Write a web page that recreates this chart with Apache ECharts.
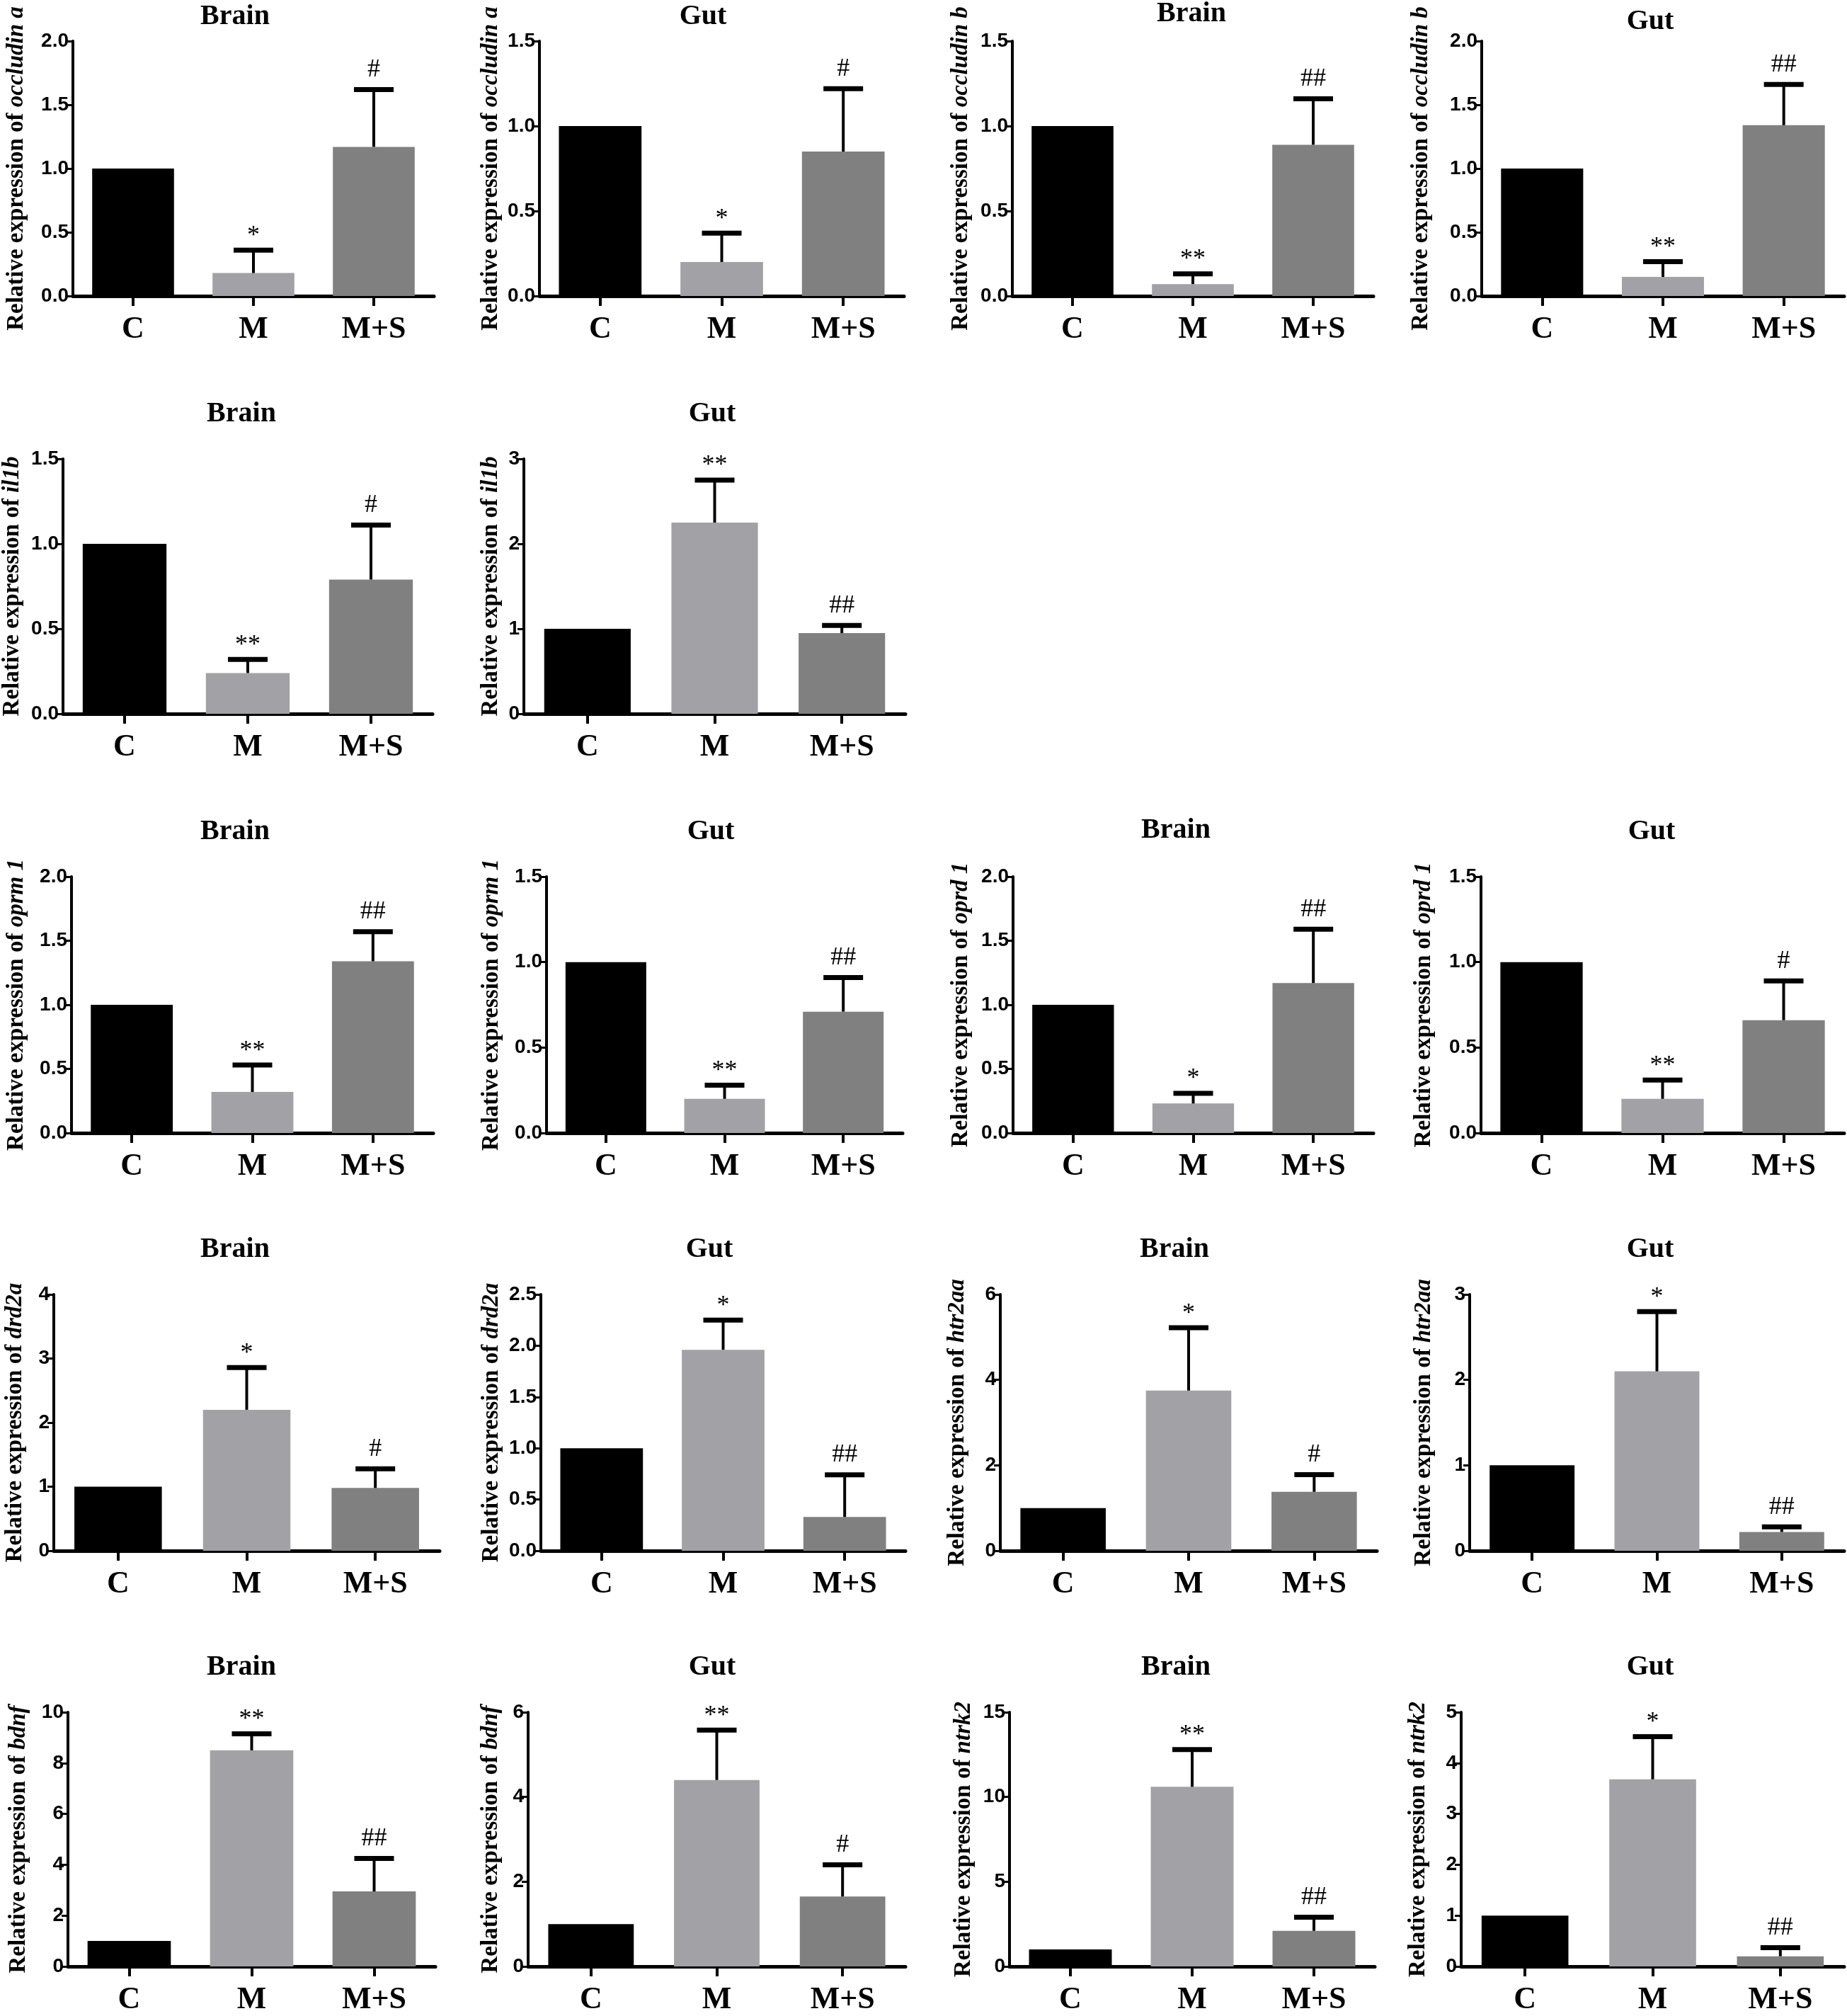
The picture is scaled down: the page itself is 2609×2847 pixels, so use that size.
<!DOCTYPE html>
<html>
<head>
    <meta charset="utf-8">
    <title>Relative expression</title>
    <script src="https://cdn.jsdelivr.net/npm/echarts@6/dist/echarts.min.js"></script>
    <style>
        html, body { margin: 0; padding: 0; background: #fff; }
        #chart { width: 2609px; height: 2847px; }
    </style>
</head>
<body>
<div id="chart"></div>
<script>
    // ---- data ----
    var groups = ['C', 'M', 'M+S'];
    var tissues = ['Brain', 'Gut', 'Brain', 'Gut', 'Brain', 'Gut', 'Brain', 'Gut', 'Brain',
        'Gut', 'Brain', 'Gut', 'Brain', 'Gut', 'Brain', 'Gut', 'Brain', 'Gut'];
    var genes = ['occludin a', 'occludin a', 'occludin b', 'occludin b', 'il1b', 'il1b',
        'oprm 1', 'oprm 1', 'oprd 1', 'oprd 1', 'drd2a', 'drd2a', 'htr2aa', 'htr2aa',
        'bdnf', 'bdnf', 'ntrk2', 'ntrk2'];
    var meanC  = [1, 1, 1, 1, 1, 1, 1, 1, 1, 1, 1, 1, 1, 1, 1, 1, 1, 1];
    var meanM  = [0.18, 0.20, 0.07, 0.15, 0.24, 2.25, 0.32, 0.20, 0.23, 0.20, 2.20, 1.96, 3.75, 2.10, 8.50, 4.40, 10.6, 3.68];
    var meanMS = [1.17, 0.85, 0.89, 1.34, 0.79, 0.95, 1.34, 0.71, 1.17, 0.66, 0.98, 0.33, 1.38, 0.22, 2.95, 1.65, 2.10, 0.20];
    // top of the error bar (mean + SD)
    var topM   = [0.36, 0.37, 0.13, 0.27, 0.32, 2.75, 0.53, 0.28, 0.31, 0.31, 2.86, 2.25, 5.22, 2.80, 9.15, 5.58, 12.8, 4.52];
    var topMS  = [1.62, 1.22, 1.16, 1.66, 1.11, 1.04, 1.57, 0.91, 1.59, 0.89, 1.28, 0.74, 1.78, 0.28, 4.25, 2.40, 2.90, 0.37];
    var sigM   = ['*', '*', '**', '**', '**', '**', '**', '**', '*', '**', '*', '*', '*', '*', '**', '**', '**', '*'];
    var sigMS  = ['#', '#', '##', '##', '#', '##', '##', '##', '##', '#', '#', '##', '#', '##', '##', '#', '##', '##'];
    var yMax   = [2, 1.5, 1.5, 2, 1.5, 3, 2, 1.5, 2, 1.5, 4, 2.5, 6, 3, 10, 6, 15, 5];
    var yStep  = [0.5, 0.5, 0.5, 0.5, 0.5, 1, 0.5, 0.5, 0.5, 0.5, 1, 0.5, 2, 1, 2, 2, 5, 1];

    // ---- layout (pixels) ----
    var gridL  = [103, 762, 1430, 2093, 89, 740, 101, 772, 1431, 2092, 76, 764, 1413, 2076, 96, 746, 1426, 2064];
    var gridR  = [613, 1277, 1940, 2605, 611, 1279, 612, 1275, 1940, 2605, 621, 1279, 1945, 2605, 615, 1279, 1942, 2605];
    var rowTop = [58, 648, 1238, 1828, 2418];
    var rowBot = [418, 1008, 1600, 2190, 2780];
    var panelRow = [0, 0, 0, 0, 1, 1, 2, 2, 2, 2, 3, 3, 3, 3, 4, 4, 4, 4];
    var titleX = [332, 993, 1683, 2331, 341, 1006, 332, 1004, 1661, 2333, 332, 1002, 1659, 2331, 341, 1006, 1661, 2331];
    var titleY = [24, 24, 20, 31, 585, 585, 1175, 1175, 1173, 1175, 1765, 1765, 1765, 1765, 2355, 2355, 2355, 2355];
    var nameX  = [24, 694, 1358, 2008, 18, 694, 24, 695, 1358, 2012, 22, 695, 1353, 2012, 27, 694, 1362, 2004];

    var colors = ['#000000', '#a2a2a6', '#808080'];
    var serif = '"Liberation Serif", "Times New Roman", serif';
    var sans = '"Liberation Sans", Arial, sans-serif';

    var grids = [], xAxes = [], yAxes = [], series = [], texts = [];

    function makeErr(k) {
        var sigs = [sigM[k], sigMS[k]];
        return function (params, api) {
            var x = api.value(0);
            var p0 = api.coord([x, api.value(1)]);
            var p1 = api.coord([x, api.value(2)]);
            var sig = sigs[params.dataIndex];
            var off = sig.indexOf('*') >= 0 ? 20 : 28;
            return {
                type: 'group',
                children: [
                    {type: 'line', shape: {x1: p0[0], y1: p0[1], x2: p1[0], y2: p1[1]},
                        style: {stroke: '#000', lineWidth: 4}},
                    {type: 'line', shape: {x1: p1[0] - 28, y1: p1[1], x2: p1[0] + 28, y2: p1[1]},
                        style: {stroke: '#000', lineWidth: 7}},
                    {type: 'text', x: p1[0], y: p1[1] - off,
                        style: {text: sig, fontFamily: serif, fontSize: 36, fill: '#000',
                            align: 'center', verticalAlign: 'middle'}}
                ]
            };
        };
    }

    for (var k = 0; k < genes.length; k++) {
        var r = panelRow[k];
        var dec = yStep[k] < 1 ? 1 : 0;
        grids.push({
            left: gridL[k], top: rowTop[r],
            width: gridR[k] - gridL[k], height: rowBot[r] - rowTop[r]
        });
        xAxes.push({
            type: 'category', gridIndex: k, data: groups,
            axisLine: {show: true, lineStyle: {color: '#000', width: 5}},
            axisTick: {show: true, alignWithLabel: true, length: 14, lineStyle: {color: '#000', width: 4}},
            axisLabel: {color: '#000', fontFamily: serif, fontWeight: 'bold', fontSize: 44, margin: 26}
        });
        yAxes.push({
            type: 'value', gridIndex: k, min: 0, max: yMax[k], interval: yStep[k],
            splitLine: {show: false},
            axisLine: {show: true, lineStyle: {color: '#000', width: 4}},
            axisTick: {show: true, length: 9, lineStyle: {color: '#000', width: 3}},
            axisLabel: {
                color: '#000', fontFamily: sans, fontWeight: 'bold', fontSize: 28, margin: 6,
                formatter: (function (d) { return function (v) { return v.toFixed(d); }; })(dec)
            },
            name: '{a|Relative expression of }{b|' + genes[k] + '}',
            nameLocation: 'middle', nameRotate: 90,
            nameGap: gridL[k] - nameX[k] - 16,
            nameTextStyle: {
                fontSize: 33,
                rich: {
                    a: {fontFamily: serif, fontWeight: 'bold', fontSize: 33, color: '#000'},
                    b: {fontFamily: serif, fontWeight: 'bold', fontStyle: 'italic', fontSize: 33, color: '#000'}
                }
            }
        });
        series.push({
            type: 'bar', xAxisIndex: k, yAxisIndex: k, barWidth: '68%',
            silent: true, animation: false,
            data: [meanC[k], meanM[k], meanMS[k]].map(function (v, i) {
                return {value: v, itemStyle: {color: colors[i]}};
            })
        });
        series.push({
            type: 'custom', xAxisIndex: k, yAxisIndex: k, silent: true, animation: false,
            renderItem: makeErr(k),
            data: [[1, meanM[k], topM[k]], [2, meanMS[k], topMS[k]]],
            z: 5
        });
        texts.push({
            type: 'text', x: titleX[k], y: titleY[k],
            style: {text: tissues[k], fontFamily: serif, fontWeight: 'bold', fontSize: 40,
                fill: '#000', align: 'center', verticalAlign: 'middle'}
        });
    }

    var chart = echarts.init(document.getElementById('chart'));
    chart.setOption({
        backgroundColor: '#fff',
        animation: false,
        grid: grids,
        xAxis: xAxes,
        yAxis: yAxes,
        series: series,
        graphic: texts
    });
</script>
</body>
</html>
